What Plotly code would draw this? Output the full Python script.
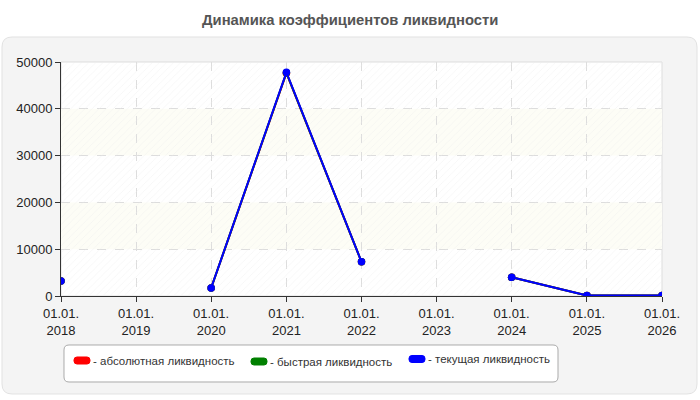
import plotly.graph_objects as go

# ---- data ----
dates = ["2018-01-01", "2019-01-01", "2020-01-01", "2021-01-01", "2022-01-01",
         "2023-01-01", "2024-01-01", "2025-01-01", "2026-01-01"]
tick_text = ["01.01.<br>" + d[:4] for d in dates]
absolute_liq = [3200, None, 1700, 47600, 7300, None, 4000, 100, 100]
quick_liq = [3200, None, 1700, 47700, 7300, None, 4000, 100, 100]
current_liq = [3200, None, 1700, 47800, 7300, None, 4000, 100, 100]
series_names = ["абсолютная ликвидность", "быстрая ликвидность", "текущая ликвидность"]
series_colors = ["#ff0000", "#008000", "#0000ff"]
title_text = "Динамика коэффициентов ликвидности"

W, H = 700, 400
L, R, T, B = 61, 38, 62, 104
PW, PH = W - L - R, H - T - B


def px(x):
    return (x - L) / PW


def py(y):
    return (H - B - y) / PH


def rrect(x0, y0, x1, y1, r):
    def P(x, y):
        return f"{px(x):.5f},{py(y):.5f}"
    return (f"M {P(x0 + r, y0)} L {P(x1 - r, y0)} Q {P(x1, y0)} {P(x1, y0 + r)} "
            f"L {P(x1, y1 - r)} Q {P(x1, y1)} {P(x1 - r, y1)} "
            f"L {P(x0 + r, y1)} Q {P(x0, y1)} {P(x0, y1 - r)} "
            f"L {P(x0, y0 + r)} Q {P(x0, y0)} {P(x0 + r, y0)} Z")


fig = go.Figure()

# hatched background
fig.add_trace(go.Scatter(
    x=[dates[0], dates[-1], dates[-1], dates[0], dates[0]],
    y=[0, 0, 50000, 50000, 0],
    fill="toself", mode="none", hoverinfo="skip", showlegend=False,
    fillcolor="rgba(0,0,0,0)",
    fillpattern=dict(shape="/", fgcolor="#ececec", bgcolor="rgba(0,0,0,0)", size=5, solidity=0.15),
))

for vals, name, col in zip([absolute_liq, quick_liq, current_liq], series_names, series_colors):
    fig.add_trace(go.Scatter(
        x=dates, y=vals, mode="lines+markers", name=name,
        line=dict(color=col, width=2), marker=dict(color=col, size=7.5),
        connectgaps=False, showlegend=False,
    ))

shapes = []
shapes.append(dict(type="path", xref="paper", yref="paper", path=rrect(2, 37, 697, 394, 10),
                   fillcolor="#f4f4f4", line=dict(color="#e2e2e2", width=1), layer="below"))
shapes.append(dict(type="rect", xref="paper", yref="paper", x0=0, x1=1, y0=0, y1=1,
                   fillcolor="#ffffff", line=dict(color="#dddddd", width=1), layer="below"))
for lo in (10000, 30000):
    shapes.append(dict(type="rect", xref="paper", yref="y", x0=0, x1=1, y0=lo, y1=lo + 10000,
                       fillcolor="#fdfdf6", line=dict(width=0), layer="below"))
shapes.append(dict(type="path", xref="paper", yref="paper", path=rrect(64, 345, 558, 382, 5),
                   fillcolor="#ffffff", line=dict(color="#aaaaaa", width=1), layer="above"))

annotations = []
leg_items = [(74, 360.5), (251, 361.5), (409, 359)]
for (lx, ly), name, col in zip(leg_items, series_names, series_colors):
    shapes.append(dict(type="path", xref="paper", yref="paper",
                       path=rrect(lx, ly - 3.5, lx + 16, ly + 3.5, 3),
                       fillcolor=col, line=dict(color=col, width=1), layer="above"))
    annotations.append(dict(xref="paper", yref="paper", x=px(lx + 17), y=py(ly),
                            xanchor="left", yanchor="middle", showarrow=False,
                            text="- " + name, font=dict(family="Arial", size=11.5, color="#333333")))

annotations.append(dict(xref="paper", yref="paper", x=px(350), y=py(20), xanchor="center",
                        yanchor="middle", showarrow=False, text="<b>" + title_text + "</b>",
                        font=dict(family="Arial", size=14.8, color="#555555")))

axis_common = dict(showgrid=True, gridcolor="#dddddd", griddash="dash", gridwidth=1,
                   showline=True, linecolor="#333333", linewidth=1, ticks="outside", ticklen=5,
                   tickcolor="#333333", zeroline=False, fixedrange=True,
                   tickfont=dict(family="Arial", size=13, color="#222222"))

fig.update_layout(
    width=W, height=H, margin=dict(l=L, r=R, t=T, b=B, autoexpand=False),
    paper_bgcolor="#ffffff", plot_bgcolor="rgba(0,0,0,0)",
    showlegend=False, shapes=shapes, annotations=annotations,
    font=dict(family="Arial", size=13, color="#222222"),
    xaxis=dict(type="date", range=[dates[0], dates[-1]], tickvals=dates, ticktext=tick_text,
               **axis_common),
    yaxis=dict(range=[0, 50000], dtick=10000, tickformat="d", **axis_common),
)

fig.write_html("out.html")
